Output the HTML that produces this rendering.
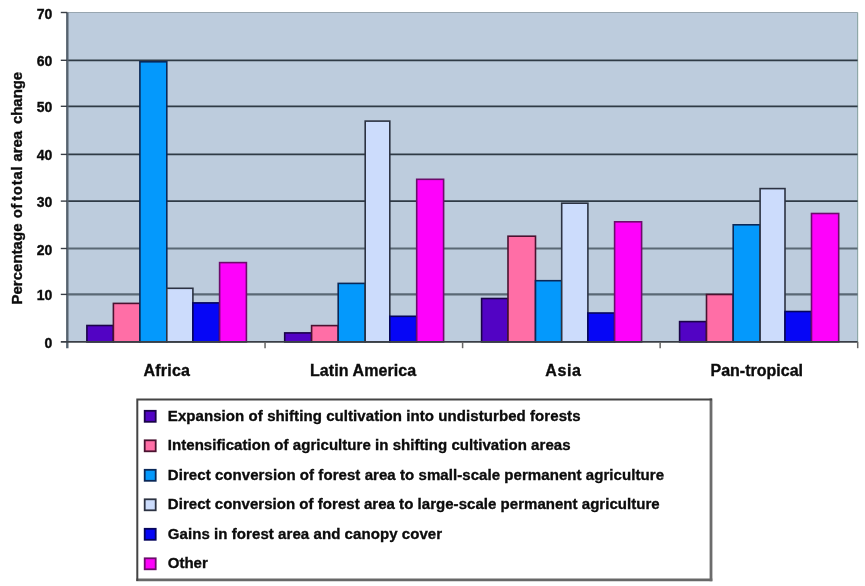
<!DOCTYPE html><html><head><meta charset="utf-8"><title>Chart</title>
<style>html,body{margin:0;padding:0;background:#fff}svg{display:block;filter:blur(0.55px)}text{font-family:"Liberation Sans",Arial,sans-serif;font-weight:bold;fill:#0c0c0c;stroke:#0c0c0c;stroke-width:0.35px}</style></head><body>
<svg width="865" height="586" viewBox="0 0 865 586">
<rect width="865" height="586" fill="#fff"/>
<rect x="67.3" y="12.5" width="790.3000000000001" height="329.4" fill="#bdccdd"/>
<line x1="67.3" y1="12.5" x2="857.6" y2="12.5" stroke="#98a6b0" stroke-width="1.2"/>
<line x1="857.6" y1="12.5" x2="857.6" y2="341.9" stroke="#8fa8a8" stroke-width="1.2"/>
<line x1="67.3" y1="294.40" x2="857.6" y2="294.40" stroke="#5a6874" stroke-width="2.2"/>
<line x1="67.3" y1="248.50" x2="857.6" y2="248.50" stroke="#5a6874" stroke-width="2.2"/>
<line x1="67.3" y1="201.10" x2="857.6" y2="201.10" stroke="#2f3a45" stroke-width="1.8"/>
<line x1="67.3" y1="154.40" x2="857.6" y2="154.40" stroke="#2f3a45" stroke-width="1.8"/>
<line x1="67.3" y1="106.30" x2="857.6" y2="106.30" stroke="#2f3a45" stroke-width="1.8"/>
<line x1="67.3" y1="60.30" x2="857.6" y2="60.30" stroke="#2f3a45" stroke-width="1.8"/>
<rect x="86.90" y="325.50" width="26.50" height="16.40" fill="#5203c4" stroke="#1a0448" stroke-width="1.6"/>
<rect x="113.40" y="303.40" width="26.50" height="38.50" fill="#ff6ea6" stroke="#4a1230" stroke-width="1.6"/>
<rect x="139.90" y="61.80" width="26.90" height="280.10" fill="#0499fc" stroke="#0a2858" stroke-width="1.6"/>
<rect x="166.80" y="288.30" width="26.10" height="53.60" fill="#ccdcfc" stroke="#2c3242" stroke-width="1.6"/>
<rect x="192.90" y="302.90" width="26.70" height="39.00" fill="#0606f6" stroke="#05055c" stroke-width="1.6"/>
<rect x="219.60" y="262.60" width="26.80" height="79.30" fill="#fe02fb" stroke="#6c0c6c" stroke-width="1.6"/>
<rect x="284.70" y="332.90" width="26.90" height="9.00" fill="#5203c4" stroke="#1a0448" stroke-width="1.6"/>
<rect x="311.60" y="325.60" width="26.60" height="16.30" fill="#ff6ea6" stroke="#4a1230" stroke-width="1.6"/>
<rect x="338.20" y="283.40" width="27.00" height="58.50" fill="#0499fc" stroke="#0a2858" stroke-width="1.6"/>
<rect x="365.20" y="121.10" width="24.60" height="220.80" fill="#ccdcfc" stroke="#2c3242" stroke-width="1.6"/>
<rect x="389.80" y="316.30" width="26.90" height="25.60" fill="#0606f6" stroke="#05055c" stroke-width="1.6"/>
<rect x="416.70" y="179.30" width="26.90" height="162.60" fill="#fe02fb" stroke="#6c0c6c" stroke-width="1.6"/>
<rect x="481.60" y="298.50" width="26.40" height="43.40" fill="#5203c4" stroke="#1a0448" stroke-width="1.6"/>
<rect x="508.00" y="236.20" width="27.50" height="105.70" fill="#ff6ea6" stroke="#4a1230" stroke-width="1.6"/>
<rect x="535.50" y="280.70" width="26.20" height="61.20" fill="#0499fc" stroke="#0a2858" stroke-width="1.6"/>
<rect x="561.70" y="203.20" width="26.20" height="138.70" fill="#ccdcfc" stroke="#2c3242" stroke-width="1.6"/>
<rect x="587.90" y="313.00" width="26.70" height="28.90" fill="#0606f6" stroke="#05055c" stroke-width="1.6"/>
<rect x="614.60" y="221.80" width="27.00" height="120.10" fill="#fe02fb" stroke="#6c0c6c" stroke-width="1.6"/>
<rect x="679.60" y="321.60" width="26.90" height="20.30" fill="#5203c4" stroke="#1a0448" stroke-width="1.6"/>
<rect x="706.50" y="294.50" width="26.70" height="47.40" fill="#ff6ea6" stroke="#4a1230" stroke-width="1.6"/>
<rect x="733.20" y="224.80" width="26.90" height="117.10" fill="#0499fc" stroke="#0a2858" stroke-width="1.6"/>
<rect x="760.10" y="188.60" width="24.90" height="153.30" fill="#ccdcfc" stroke="#2c3242" stroke-width="1.6"/>
<rect x="785.00" y="311.50" width="26.50" height="30.40" fill="#0606f6" stroke="#05055c" stroke-width="1.6"/>
<rect x="811.50" y="213.50" width="27.20" height="128.40" fill="#fe02fb" stroke="#6c0c6c" stroke-width="1.6"/>
<line x1="67.3" y1="12.5" x2="67.3" y2="348.2" stroke="#56626e" stroke-width="2.4"/>
<line x1="60.8" y1="341.9" x2="857.6" y2="341.9" stroke="#3a3f46" stroke-width="1.6"/>
<line x1="60.8" y1="294.40" x2="67.3" y2="294.40" stroke="#3a3f46" stroke-width="1.4"/>
<line x1="60.8" y1="248.50" x2="67.3" y2="248.50" stroke="#3a3f46" stroke-width="1.4"/>
<line x1="60.8" y1="201.10" x2="67.3" y2="201.10" stroke="#3a3f46" stroke-width="1.4"/>
<line x1="60.8" y1="154.40" x2="67.3" y2="154.40" stroke="#3a3f46" stroke-width="1.4"/>
<line x1="60.8" y1="106.30" x2="67.3" y2="106.30" stroke="#3a3f46" stroke-width="1.4"/>
<line x1="60.8" y1="60.30" x2="67.3" y2="60.30" stroke="#3a3f46" stroke-width="1.4"/>
<line x1="60.8" y1="12.50" x2="67.3" y2="12.50" stroke="#3a3f46" stroke-width="1.4"/>
<line x1="265.05" y1="341.9" x2="265.05" y2="348.2" stroke="#666" stroke-width="1.5"/>
<line x1="462.60" y1="341.9" x2="462.60" y2="348.2" stroke="#666" stroke-width="1.5"/>
<line x1="660.15" y1="341.9" x2="660.15" y2="348.2" stroke="#666" stroke-width="1.5"/>
<line x1="857.70" y1="341.9" x2="857.70" y2="348.2" stroke="#666" stroke-width="1.5"/>
<text x="52.3" y="347.90" font-size="14" text-anchor="end">0</text>
<text x="52.3" y="300.40" font-size="14" text-anchor="end">10</text>
<text x="52.3" y="254.50" font-size="14" text-anchor="end">20</text>
<text x="52.3" y="207.10" font-size="14" text-anchor="end">30</text>
<text x="52.3" y="160.40" font-size="14" text-anchor="end">40</text>
<text x="52.3" y="112.30" font-size="14" text-anchor="end">50</text>
<text x="52.3" y="66.30" font-size="14" text-anchor="end">60</text>
<text x="52.3" y="18.50" font-size="14" text-anchor="end">70</text>
<text class="yl" transform="translate(22.4,304.6) rotate(-90)" font-size="15"><tspan x="0.0" textLength="81.1" lengthAdjust="spacing">Percentage</tspan> <tspan x="86.4" textLength="14.4" lengthAdjust="spacing">of</tspan> <tspan x="103.7" textLength="34.6" lengthAdjust="spacing">total</tspan> <tspan x="143.2" textLength="30.5" lengthAdjust="spacing">area</tspan> <tspan x="180.6" textLength="52.2" lengthAdjust="spacing">change</tspan></text>
<text class="cat" x="143.5" y="375.6" font-size="16" textLength="46.5" lengthAdjust="spacing">Africa</text>
<text class="cat" x="310" y="375.6" font-size="16" textLength="106.2" lengthAdjust="spacing">Latin America</text>
<text class="cat" x="545.2" y="375.6" font-size="16" textLength="35.8" lengthAdjust="spacing">Asia</text>
<text class="cat" x="710.5" y="375.6" font-size="16" textLength="92.5" lengthAdjust="spacing">Pan-tropical</text>
<rect x="137.3" y="399.5" width="573.7" height="180.39999999999998" fill="#fff"/>
<path d="M712.3 579.9H136.3" stroke="#686868" stroke-width="2.6" fill="none"/>
<path d="M711 398.5V581.1999999999999" stroke="#6c6c6c" stroke-width="2.8" fill="none"/>
<path d="M137.3 580.9V399.5H712" stroke="#444" stroke-width="2" fill="none" stroke-linejoin="miter"/>
<rect x="144.7" y="410.80" width="11.0" height="11.0" fill="#5203c4" stroke="#1a0448" stroke-width="1.8"/>
<text class="leg" x="167.8" y="420.80" font-size="15" textLength="412.7" lengthAdjust="spacing">Expansion of shifting cultivation into undisturbed forests</text>
<rect x="144.7" y="440.30" width="11.0" height="11.0" fill="#ff6ea6" stroke="#4a1230" stroke-width="1.8"/>
<text class="leg" x="167.8" y="450.25" font-size="15" textLength="402.7" lengthAdjust="spacing">Intensification of agriculture in shifting cultivation areas</text>
<rect x="144.7" y="469.80" width="11.0" height="11.0" fill="#0499fc" stroke="#0a2858" stroke-width="1.8"/>
<text class="leg" x="167.8" y="479.70" font-size="15" textLength="496.2" lengthAdjust="spacing">Direct conversion of forest area to small-scale permanent agriculture</text>
<rect x="144.7" y="499.30" width="11.0" height="11.0" fill="#ccdcfc" stroke="#2c3242" stroke-width="1.8"/>
<text class="leg" x="167.8" y="509.15" font-size="15" textLength="491.9" lengthAdjust="spacing">Direct conversion of forest area to large-scale permanent agriculture</text>
<rect x="144.7" y="528.80" width="11.0" height="11.0" fill="#0606f6" stroke="#05055c" stroke-width="1.8"/>
<text class="leg" x="167.8" y="538.60" font-size="15" textLength="274.3" lengthAdjust="spacing">Gains in forest area and canopy cover</text>
<rect x="144.7" y="558.30" width="11.0" height="11.0" fill="#fe02fb" stroke="#6c0c6c" stroke-width="1.8"/>
<text class="leg" x="167.8" y="568.05" font-size="15" textLength="40.0" lengthAdjust="spacing">Other</text>
</svg></body></html>
